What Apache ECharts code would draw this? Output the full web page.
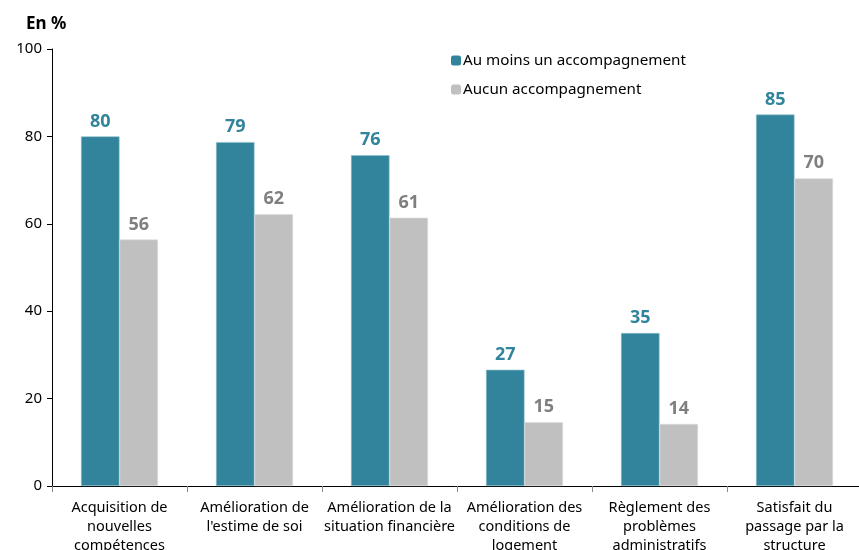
<!DOCTYPE html>
<html><head><meta charset="utf-8">
<script src="https://cdn.jsdelivr.net/npm/echarts@6/dist/echarts.min.js"></script>
<style>html,body{margin:0;padding:0;background:#fff}#c{width:859px;height:550px}</style>
</head><body><div id="c"></div>
<script>
const categories = [
  "Acquisition de\nnouvelles\ncompétences",
  "Amélioration de\nl'estime de soi",
  "Amélioration de la\nsituation financière",
  "Amélioration des\nconditions de\nlogement",
  "Règlement des\nproblèmes\nadministratifs",
  "Satisfait du\npassage par la\nstructure"
];
const seriesNames = ["Au moins un accompagnement", "Aucun accompagnement"];
const withSupport = [80, 78.7, 75.7, 26.6, 35, 85];
const withoutSupport = [56.4, 62.2, 61.4, 14.6, 14.2, 70.4];
const yTicks = [0, 20, 40, 60, 80, 100];

const FONT = "Noto Sans";
const chart = echarts.init(document.getElementById('c'), null, {renderer: 'canvas'});
chart.setOption({
  animation: false,
  textStyle: {fontFamily: FONT},
  title: {text: "En %", left: 21, top: 11, textStyle: {fontFamily: FONT, fontWeight: 'bold', fontSize: 17, color: '#000'}},
  legend: {
    orient: 'vertical', left: 446, top: 48, itemWidth: 10, itemHeight: 10, itemGap: 14,
    itemStyle: {borderWidth: 0},
    textStyle: {fontFamily: FONT, fontSize: 15.2, color: '#000', padding: [0,0,0,-3]},
    data: seriesNames
  },
  grid: {left: 52, top: 49, bottom: 64, width: 810, containLabel: false, outerBoundsMode: 'none'},
  xAxis: {
    type: 'category', data: categories,
    axisLine: {lineStyle: {color: '#000', width: 1}},
    axisTick: {show: true, length: 6, lineStyle: {color: '#888'}},
    axisLabel: {interval: 0, fontFamily: FONT, fontSize: 14.5, color: '#000', lineHeight: 19, margin: 12}
  },
  yAxis: {
    type: 'value', min: yTicks[0], max: yTicks[yTicks.length-1], interval: 20,
    splitLine: {show: false},
    axisLine: {show: true, lineStyle: {color: '#000'}},
    axisTick: {show: true, length: 5, lineStyle: {color: '#000'}},
    axisLabel: {fontFamily: FONT, fontSize: 15, color: '#000', margin: 10}
  },
  series: [
    {name: seriesNames[0], type: 'bar', data: withSupport, barWidth: 38.5, barGap: '0%',
     itemStyle: {color: '#31849B', borderColor: '#8fc0cc', borderWidth: 0.6},
     label: {show: true, position: 'top', distance: 6, fontFamily: FONT, fontWeight: 'bold', fontSize: 18, color: '#31849B',
       formatter: p => Math.round(p.value)}},
    {name: seriesNames[1], type: 'bar', data: withoutSupport, barWidth: 38.5,
     itemStyle: {color: '#C0C0C0', borderColor: '#dcdcdc', borderWidth: 0.6},
     label: {show: true, position: 'top', distance: 6, fontFamily: FONT, fontWeight: 'bold', fontSize: 18, color: '#7F7F7F',
       formatter: p => Math.round(p.value)}}
  ]
});
</script></body></html>
